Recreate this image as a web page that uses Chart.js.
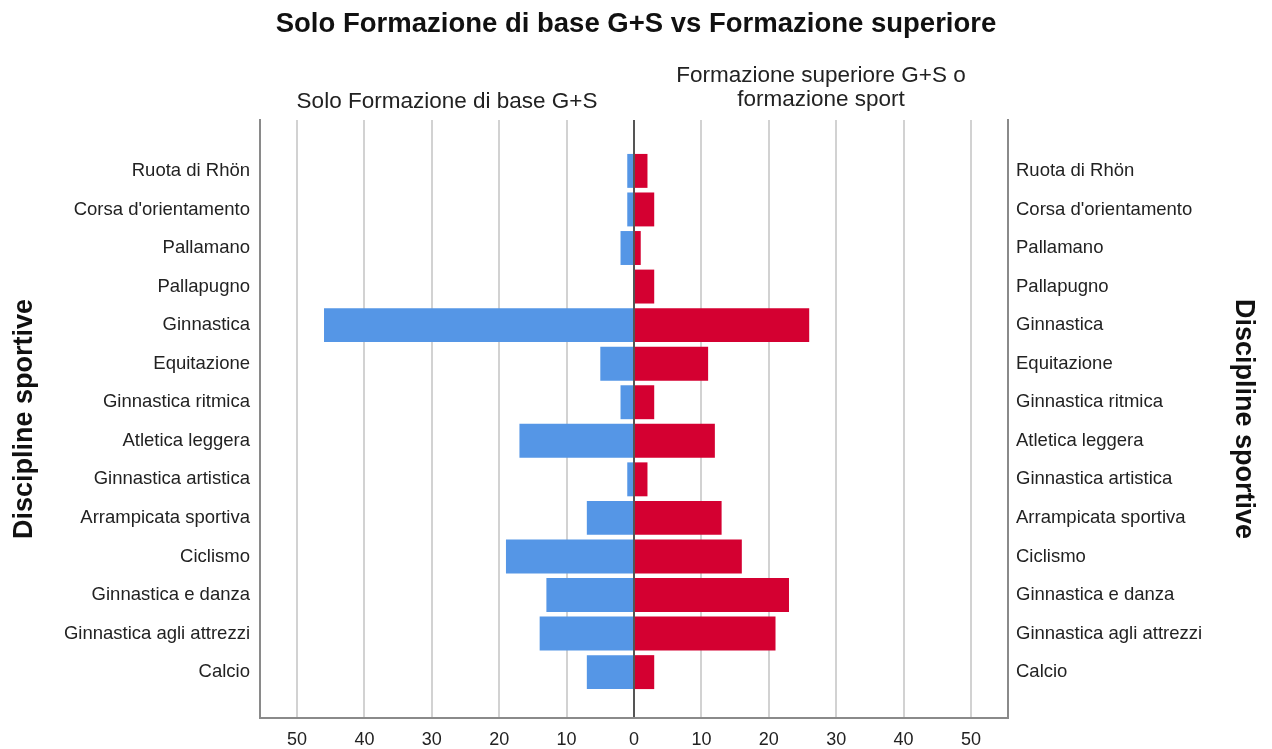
<!DOCTYPE html>
<html>
<head>
<meta charset="utf-8">
<script src="https://cdn.jsdelivr.net/npm/chart.js@4.4.1/dist/chart.umd.min.js"></script>
<style>
  html, body { margin: 0; padding: 0; background: #ffffff; }
  #wrap { width: 1272px; height: 749px; }
</style>
</head>
<body>
<div id="wrap"><canvas id="c" width="1272" height="749"></canvas></div>
<script>
// ---- data ----
const chartTitle = "Solo Formazione di base G+S vs Formazione superiore";
const categories = [
  "Ruota di Rhön", "Corsa d'orientamento", "Pallamano", "Pallapugno", "Ginnastica",
  "Equitazione", "Ginnastica ritmica", "Atletica leggera", "Ginnastica artistica",
  "Arrampicata sportiva", "Ciclismo", "Ginnastica e danza", "Ginnastica agli attrezzi", "Calcio"
];
const seriesNames = ["Solo Formazione di base G+S", "Formazione superiore G+S o formazione sport"];
const leftHeaderLines = ["Solo Formazione di base G+S"];
const rightHeaderLines = ["Formazione superiore G+S o", "formazione sport"];
const baseOnly = [1, 1, 2, 0, 46, 5, 2, 17, 1, 7, 19, 13, 14, 7];
const superiore = [2, 3, 1, 3, 26, 11, 3, 12, 2, 13, 16, 23, 21, 3];
const xTicks = [-50, -40, -30, -20, -10, 0, 10, 20, 30, 40, 50];
const axisTitle = "Discipline sportive";

// ---- chart ----
const FONT = "'Liberation Sans', Arial, sans-serif";
const xLimit = 55.5;
const yMin = -1.32, yMax = categories.length - 1 + 1.19;

const setCatTicks = (scale) => { scale.ticks = categories.map((_, i) => ({ value: i })); };

const headerPlugin = {
  id: 'panelHeaders',
  afterDraw(chart) {
    const ctx = chart.ctx;
    const xs = chart.scales.x;
    const top = chart.chartArea.top;
    ctx.save();
    ctx.font = "22.5px " + FONT;
    ctx.fillStyle = "#222";
    ctx.textAlign = "center";
    ctx.textBaseline = "middle";
    const lx = xs.getPixelForValue(-xLimit / 2);
    const rx = xs.getPixelForValue(xLimit / 2);
    leftHeaderLines.forEach((t, i) => {
      ctx.fillText(t, lx, top - 18 - (leftHeaderLines.length - 1 - i) * 24);
    });
    rightHeaderLines.forEach((t, i) => {
      ctx.fillText(t, rx, top - 20 - (rightHeaderLines.length - 1 - i) * 24);
    });
    ctx.restore();
  }
};

new Chart(document.getElementById('c'), {
  type: 'bar',
  data: {
    datasets: [
      {
        label: seriesNames[0],
        data: baseOnly.map((v, i) => ({ x: -v, y: i })),
        backgroundColor: '#5596E6',
        borderWidth: 0,
        grouped: false,
        barPercentage: 0.88,
        categoryPercentage: 1.0
      },
      {
        label: seriesNames[1],
        data: superiore.map((v, i) => ({ x: v, y: i })),
        backgroundColor: '#D40031',
        borderWidth: 0,
        grouped: false,
        barPercentage: 0.88,
        categoryPercentage: 1.0
      }
    ]
  },
  options: {
    indexAxis: 'y',
    responsive: false,
    animation: false,
    layout: { padding: 0 },
    plugins: {
      legend: { display: false },
      tooltip: { enabled: false },
      title: {
        display: true,
        text: chartTitle,
        color: '#111',
        font: { family: FONT, size: 27.5, weight: 'bold' },
        padding: { top: 8, bottom: 79 }
      }
    },
    scales: {
      x: {
        type: 'linear',
        min: -xLimit,
        max: xLimit,
        afterBuildTicks: (scale) => { scale.ticks = xTicks.map(v => ({ value: v })); },
        afterFit: (scale) => { scale.height = 31; },
        ticks: {
          autoSkip: false,
          maxRotation: 0,
          color: '#222',
          padding: 11,
          font: { family: FONT, size: 18 },
          callback: (v) => Math.abs(v)
        },
        grid: {
          drawTicks: false,
          lineWidth: 2,
          color: (ctx) => (ctx.tick && ctx.tick.value === 0) ? '#555555' : '#d2d2d2'
        },
        border: { display: true, color: '#8a8a8a', width: 2 }
      },
      y: {
        type: 'linear',
        position: 'left',
        reverse: true,
        offset: false,
        min: yMin,
        max: yMax,
        afterBuildTicks: setCatTicks,
        afterFit: (scale) => { scale.width = 260; },
        ticks: {
          autoSkip: false,
          color: '#222',
          padding: 10,
          font: { family: FONT, size: 18.5 },
          callback: (v) => categories[v]
        },
        grid: { display: false, drawTicks: false, offset: false },
        border: { display: true, color: '#8a8a8a', width: 2 },
        title: {
          display: true,
          text: axisTitle,
          color: '#111',
          font: { family: FONT, size: 27, weight: 'bold' },
          padding: { top: 8, bottom: 0 }
        }
      },
      y2: {
        type: 'linear',
        position: 'right',
        reverse: true,
        offset: false,
        min: yMin,
        max: yMax,
        afterBuildTicks: setCatTicks,
        afterFit: (scale) => { scale.width = 264; },
        ticks: {
          autoSkip: false,
          color: '#222',
          padding: 8,
          font: { family: FONT, size: 18.5 },
          callback: (v) => categories[v]
        },
        grid: { display: false, drawTicks: false, offset: false },
        border: { display: true, color: '#8a8a8a', width: 2 },
        title: {
          display: true,
          text: axisTitle,
          color: '#111',
          font: { family: FONT, size: 27, weight: 'bold' },
          padding: { top: 12, bottom: 0 }
        }
      }
    }
  },
  plugins: [headerPlugin]
});
</script>
</body>
</html>
